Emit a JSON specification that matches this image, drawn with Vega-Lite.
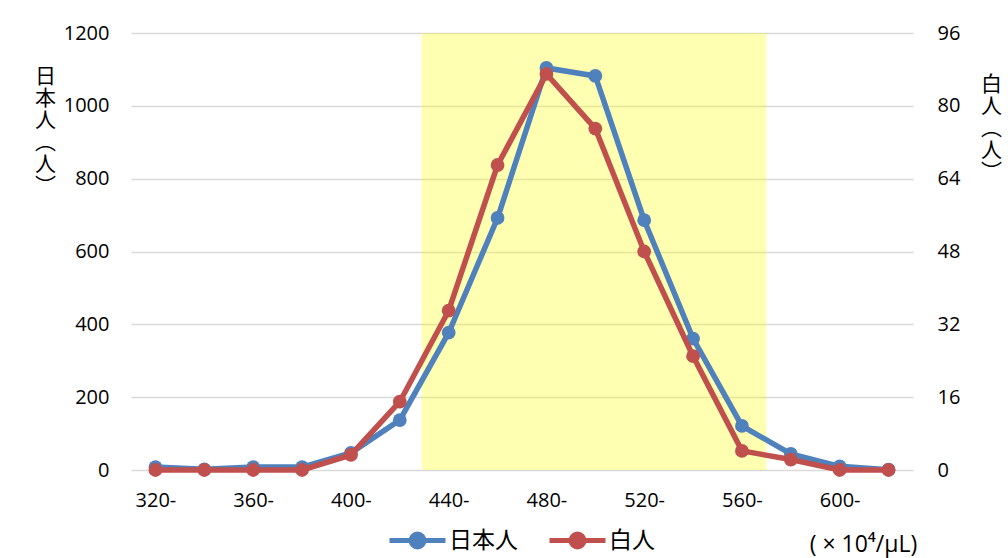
{
  "$schema": "https://vega.github.io/schema/vega-lite/v6.json",
  "width": 782,
  "height": 437,
  "autosize": {"type": "none"},
  "padding": {"left": 131, "top": 33, "right": 95, "bottom": 88},
  "background": "white",
  "config": {
    "view": {"stroke": null},
    "font": "Open Sans",
    "axis": {"labelColor": "#000", "titleColor": "#000", "labelFont": "Open Sans", "labelFontSize": 20}
  },
  "datasets": {
    "rbc": [
      {"x": 320, "series": "日本人", "value": 8},
      {"x": 340, "series": "日本人", "value": 2},
      {"x": 360, "series": "日本人", "value": 8},
      {"x": 380, "series": "日本人", "value": 8},
      {"x": 400, "series": "日本人", "value": 47},
      {"x": 420, "series": "日本人", "value": 137},
      {"x": 440, "series": "日本人", "value": 377},
      {"x": 460, "series": "日本人", "value": 692},
      {"x": 480, "series": "日本人", "value": 1104},
      {"x": 500, "series": "日本人", "value": 1082},
      {"x": 520, "series": "日本人", "value": 686},
      {"x": 540, "series": "日本人", "value": 361},
      {"x": 560, "series": "日本人", "value": 121},
      {"x": 580, "series": "日本人", "value": 44},
      {"x": 600, "series": "日本人", "value": 10},
      {"x": 620, "series": "日本人", "value": 1},
      {"x": 320, "series": "白人", "value": 0},
      {"x": 340, "series": "白人", "value": 0},
      {"x": 360, "series": "白人", "value": 0},
      {"x": 380, "series": "白人", "value": 0},
      {"x": 400, "series": "白人", "value": 3.3},
      {"x": 420, "series": "白人", "value": 15},
      {"x": 440, "series": "白人", "value": 35},
      {"x": 460, "series": "白人", "value": 67},
      {"x": 480, "series": "白人", "value": 87},
      {"x": 500, "series": "白人", "value": 75},
      {"x": 520, "series": "白人", "value": 48},
      {"x": 540, "series": "白人", "value": 25},
      {"x": 560, "series": "白人", "value": 4.2},
      {"x": 580, "series": "白人", "value": 2.3},
      {"x": 600, "series": "白人", "value": 0},
      {"x": 620, "series": "白人", "value": 0}
    ],
    "range": [{"start": 429, "end": 570}]
  },
  "encoding": {
    "x": {
      "field": "x",
      "type": "quantitative",
      "scale": {"domain": [310, 630], "nice": false, "zero": false},
      "axis": {
        "values": [320, 360, 400, 440, 480, 520, 560, 600],
        "labelExpr": "datum.value + '-'",
        "grid": false,
        "domain": false,
        "ticks": false,
        "labelPadding": 20,
        "title": "( × 10⁴/μL)",
        "titleFont": "Open Sans",
        "titleFontSize": 23,
        "titleFontWeight": "normal",
        "titleX": 732,
        "titleY": 74,
        "titleAlign": "center",
        "titleBaseline": "middle"
      }
    }
  },
  "layer": [
    {
      "data": {"name": "range"},
      "mark": {"type": "rect", "color": "#FFFF00", "opacity": 0.3},
      "encoding": {
        "x": {"field": "start", "type": "quantitative"},
        "x2": {"field": "end"}
      }
    },
    {
      "data": {"name": "rbc"},
      "transform": [{"filter": "datum.series === '日本人'"}],
      "encoding": {
        "y": {
          "field": "value",
          "type": "quantitative",
          "scale": {"domain": [0, 1200], "nice": false},
          "axis": {
            "orient": "left",
            "values": [0, 200, 400, 600, 800, 1000, 1200],
            "format": "d",
            "grid": true,
            "gridColor": "#D9D9D9",
            "gridWidth": 1.5,
            "domain": false,
            "ticks": false,
            "labelPadding": 22,
            "title": ["日", "本", "人", "︵", "人", "︶"],
            "titleFont": "Noto Sans CJK JP",
            "titleFontSize": 21,
            "titleFontWeight": "normal",
            "titleAngle": 0,
            "titleLineHeight": 22,
            "titleAlign": "center",
            "titleBaseline": "top",
            "titleX": -86,
            "titleY": 32
          }
        },
        "color": {
          "field": "series",
          "type": "nominal",
          "scale": {"domain": ["日本人", "白人"], "range": ["#4F81BD", "#C0504D"]},
          "legend": {
            "orient": "none",
            "legendX": 256,
            "legendY": 477,
            "direction": "horizontal",
            "title": null,
            "symbolType": "M-1,0H1M-0.23,0A0.23,0.23,0,1,1,0.23,0A0.23,0.23,0,1,1,-0.23,0Z",
            "symbolSize": 3136,
            "symbolStrokeWidth": 5,
            "labelFont": "Noto Sans CJK JP",
            "labelFontSize": 23,
            "labelColor": "#000",
            "labelOffset": 1,
            "columnPadding": 21,
            "encode": {
              "symbols": {
                "update": {
                  "fill": {"scale": "color", "field": "value"},
                  "stroke": {"scale": "color", "field": "value"},
                  "opacity": {"value": 1}
                }
              }
            }
          }
        }
      },
      "layer": [
        {"mark": {"type": "line", "strokeWidth": 5.5}},
        {"mark": {"type": "point", "filled": true, "size": 190, "opacity": 1}}
      ]
    },
    {
      "data": {"name": "rbc"},
      "transform": [{"filter": "datum.series === '白人'"}],
      "encoding": {
        "y": {
          "field": "value",
          "type": "quantitative",
          "scale": {"domain": [0, 96], "nice": false},
          "axis": {
            "orient": "right",
            "values": [0, 16, 32, 48, 64, 80, 96],
            "grid": false,
            "domain": false,
            "ticks": false,
            "labelPadding": 24,
            "title": ["白", "人", "︵", "人", "︶"],
            "titleFont": "Noto Sans CJK JP",
            "titleFontSize": 21,
            "titleFontWeight": "normal",
            "titleAngle": 0,
            "titleLineHeight": 22,
            "titleAlign": "center",
            "titleBaseline": "top",
            "titleX": 78,
            "titleY": 40
          }
        },
        "color": {"field": "series", "type": "nominal"}
      },
      "layer": [
        {"mark": {"type": "line", "strokeWidth": 5.5}},
        {"mark": {"type": "point", "filled": true, "size": 190, "opacity": 1}}
      ]
    }
  ],
  "resolve": {"scale": {"y": "independent"}}
}
